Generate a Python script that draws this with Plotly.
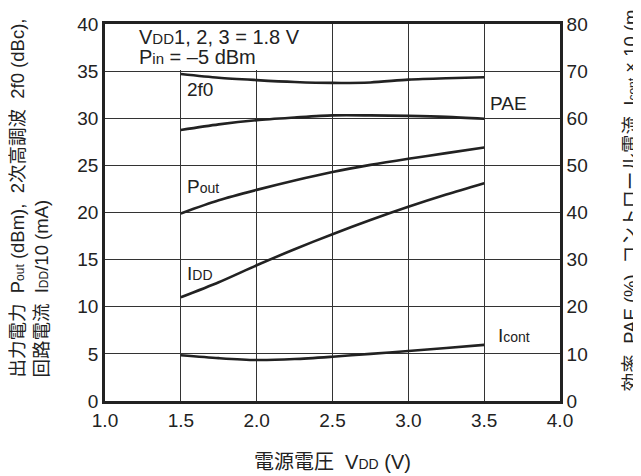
import plotly.graph_objects as go

vdd = [1.5, 1.75, 2.0, 2.25, 2.5, 2.75, 3.0, 3.25, 3.5]
f2_dbc = [34.7, 34.3, 34.05, 33.85, 33.75, 33.8, 34.1, 34.25, 34.35]
pout_dbm = [19.9, 21.3, 22.4, 23.4, 24.3, 25.05, 25.7, 26.3, 26.9]
idd_div10 = [11.0, 12.6, 14.4, 16.1, 17.7, 19.2, 20.6, 21.9, 23.1]
pae_pct = [57.5, 58.7, 59.6, 60.15, 60.6, 60.6, 60.5, 60.3, 59.9]
icont_x10 = [9.7, 9.1, 8.7, 8.9, 9.4, 10.0, 10.6, 11.25, 11.9]

x_ticks = [1.0, 1.5, 2.0, 2.5, 3.0, 3.5, 4.0]
y_left_ticks = [0, 5, 10, 15, 20, 25, 30, 35, 40]
y_right_ticks = [0, 10, 20, 30, 40, 50, 60, 70, 80]

FONT = "Liberation Sans, Arial, Noto Sans CJK JP, sans-serif"
INK = "#222222"
LW = 2.6

fig = go.Figure()
line = dict(color=INK, width=LW, shape="spline", smoothing=0.8)
for ys in (f2_dbc, pout_dbm, idd_div10):
    fig.add_trace(go.Scatter(x=vdd, y=ys, mode="lines", line=line, yaxis="y", hoverinfo="skip"))
for ys in (pae_pct, icont_x10):
    fig.add_trace(go.Scatter(x=vdd, y=ys, mode="lines", line=line, yaxis="y2", hoverinfo="skip"))

axis_common = dict(showline=True, linecolor=INK, linewidth=LW, ticks="",
                   tickfont=dict(family=FONT, size=19, color=INK), zeroline=False,
                   automargin=False)

# page body has an 8px margin, so the figure is shifted by 8px; margins compensate
fig.update_layout(
    width=641, height=476,
    margin=dict(l=97, r=89, t=16, b=83, autoexpand=False),
    paper_bgcolor="white", plot_bgcolor="white",
    showlegend=False,
    font=dict(family=FONT, color=INK),
    xaxis=dict(range=[1, 4], tickvals=x_ticks, ticktext=[f"{v:.1f}" for v in x_ticks],
               showgrid=True, gridcolor="#333333", gridwidth=1, mirror=True, **axis_common),
    yaxis=dict(range=[0, 40], tickvals=y_left_ticks, showgrid=True, gridcolor="#333333",
               gridwidth=1, **axis_common),
    yaxis2=dict(range=[0, 80], tickvals=y_right_ticks, overlaying="y", side="right",
                showgrid=False, **axis_common),
)

# white box behind the condition text
fig.add_shape(type="rect", xref="x", yref="y", x0=1.0, x1=2.4, y0=35.12, y1=40,
              fillcolor="white", line=dict(width=0), layer="between")

small = lambda s, sz=14: f"<span style='font-size:{sz}px'>{s}</span>"

ann = [
    dict(x=1.21, y=38.65, text="V" + small("DD", 15) + "1, 2, 3 = 1.8 V", font_size=20),
    dict(x=1.21, y=36.55, text="P" + small("in", 15) + " = –5 dBm", font_size=20),
    dict(x=1.528, y=33.0, text="2f0", font_size=19),
    dict(x=3.528, y=31.6, text="PAE", font_size=19),
    dict(x=1.528, y=22.8, text="P" + small("out"), font_size=19),
    dict(x=1.528, y=13.5, text="I" + small("DD"), font_size=19),
    dict(x=3.578, y=7.0, text="I" + small("cont"), font_size=19),
]
for a in ann:
    fs = a.pop("font_size")
    fig.add_annotation(xref="x", yref="y", xanchor="left", yanchor="middle", showarrow=False,
                       font=dict(family=FONT, size=fs, color=INK), **a)

# axis titles
fig.add_annotation(xref="paper", yref="paper", x=0.499, y=-0.162, xanchor="center", yanchor="middle",
                   showarrow=False, font=dict(family=FONT, size=20, color=INK),
                   text="電源電圧  V" + small("DD", 14) + " (V)")
fig.add_annotation(xref="paper", yref="paper", x=-0.165, y=0.058, xanchor="center", yanchor="bottom",
                   showarrow=False, textangle=-90, align="left",
                   font=dict(family=FONT, size=18.5, color=INK),
                   text="出力電力  P" + small("out", 12) + " (dBm),  2次高調波  2f0 (dBc),<br>"
                        "回路電流  I" + small("DD", 12) + "/10 (mA)")
fig.add_annotation(xref="paper", yref="paper", x=1.154, y=0.021, xanchor="center", yanchor="bottom",
                   showarrow=False, textangle=-90,
                   font=dict(family=FONT, size=18.5, color=INK),
                   text="効率  PAE (%), コントロール電流  I" + small("cont", 12) + " × 10 (mA)")

fig.write_html("out.html")
